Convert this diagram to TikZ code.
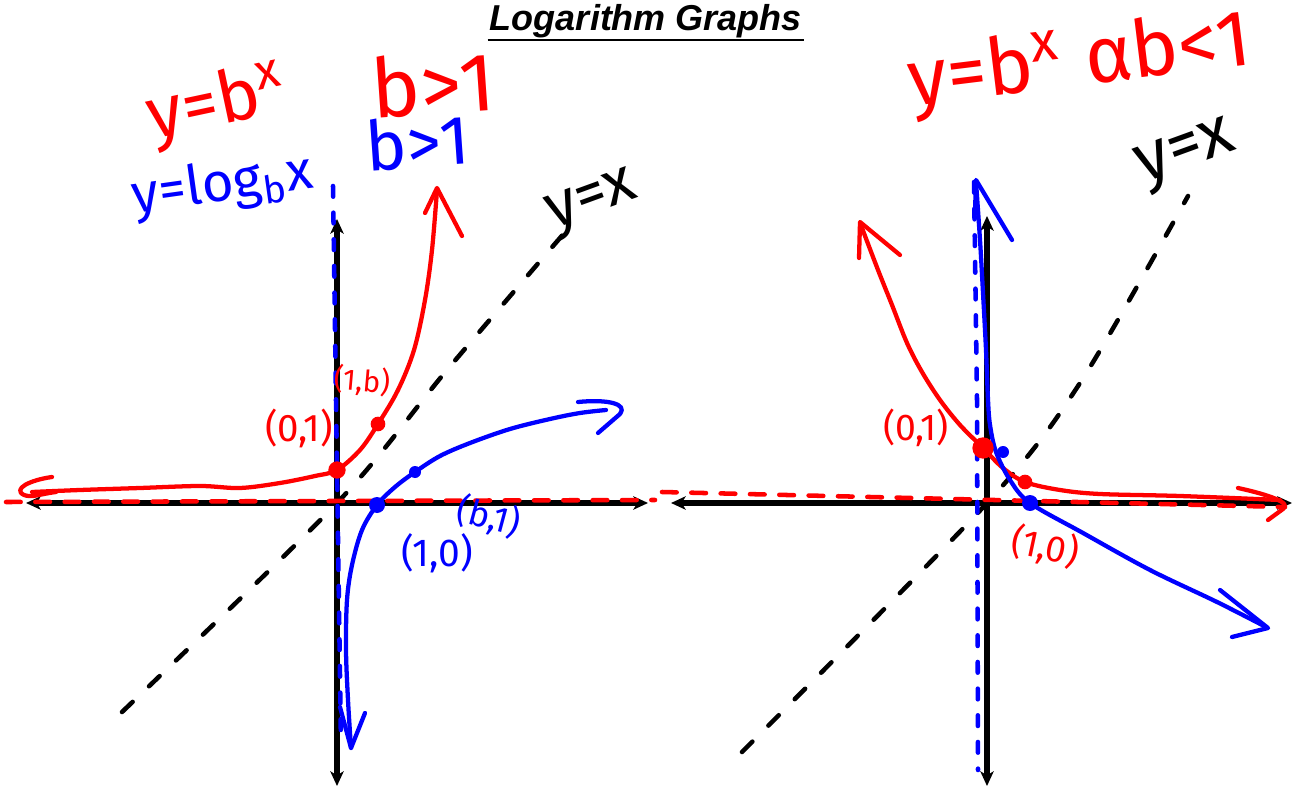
\documentclass[tikz,border=0pt]{standalone}
\usepackage{fontspec}
\setmainfont{Liberation Sans}
\newfontfamily\hand{Fira Sans}
\usepackage{graphicx}
\usetikzlibrary{arrows.meta}
\newdimen\pxu \pxu=0.75pt
\newcommand\fitw[2]{\resizebox{#1\pxu}{!}{#2}}
\begin{document}
\begin{tikzpicture}[x=0.75pt,y=-0.75pt,line cap=round,line join=round,
  axis/.style={line width=3.8pt,line cap=butt,{Stealth[length=11pt,width=10pt,inset=3pt]}-{Stealth[length=11pt,width=10pt,inset=3pt]}},
  idline/.style={line width=3.4pt,dash pattern=on 11pt off 17pt},
  redc/.style={draw=red,line width=3.2pt},
  bluec/.style={draw=blue,line width=3.2pt},
  reddash/.style={draw=red,line width=3.4pt,dash pattern=on 11pt off 11pt},
  bluedash/.style={draw=blue,line width=3.4pt,dash pattern=on 8pt off 12pt},
  rdot/.style={circle,fill=red,inner sep=0pt,minimum size=#1},
  bdot/.style={circle,fill=blue,inner sep=0pt,minimum size=#1},
  lbl/.style={inner sep=0pt,font=\hand}]
\useasboundingbox (0,0) rectangle (1294,787);
\fill[white] (0,0) rectangle (1294,787);

% title
\node[inner sep=1.5pt] (title) at (646,21) {\fontsize{27}{30}\selectfont\bfseries\itshape Logarithm Graphs};
\draw[line width=1.8pt,line cap=butt] (title.south west) -- (title.south east);

% ---------------- left graph ----------------
\coordinate (LxL) at (26,503);
\coordinate (LxR) at (648,503);
\coordinate (LyT) at (337,219);
\coordinate (LyB) at (337,786);
\draw[axis] (LxL) -- (LxR);
\draw[axis] (LyB) -- (LyT);
\draw[idline] plot[smooth] coordinates {(122,712) (337,503) (447,370) (572,224)};

% red asymptote and blue asymptote
\draw[reddash] (6,502) -- (655,500);
\draw[bluedash] (333,186) -- (336,400) -- (341,745);

% exponential b>1
\draw[redc] plot[smooth,tension=0.55] coordinates {(32,492) (80,490) (140,488) (200,486) (240,488) (280,483) (315,476) (337,470) (360,450) (378,424) (398,390) (414,350) (425,300) (432,250) (437,190)};
\draw[redc] (425,213) -- (437,188) -- (462,236);
\draw[redc] (52,477) .. controls (30,480) and (12,489) .. (24,495) .. controls (32,498) and (40,494) .. (56,492);

% log b>1
\draw[bluec] plot[smooth,tension=0.55] coordinates {(351,748) (348,700) (346,650) (347,600) (352,565) (362,530) (377,505) (395,487) (415,472) (440,456) (470,443) (510,429) (550,419) (580,413) (606,410)};
\draw[bluec] (340,707) -- (351,748) -- (365,713);
\draw[bluec] (578,402) .. controls (608,399) and (628,404) .. (620,414) -- (598,433);

\node[rdot=13pt] (L01) at (337,470) {};
\node[rdot=11pt] (L1b) at (378,424) {};
\node[bdot=12pt] (L10) at (377,505) {};
\node[bdot=9pt] (Lb1) at (415,472) {};

% labels left
\node[lbl,text=red,rotate=12] (Leq) at (218,106) {\fitw{142}{y=b\textsuperscript{x}}};
\node[lbl,text=red,rotate=4] (Lcond) at (433,84) {\fitw{124}{b>1}};
\node[lbl,text=blue,rotate=8] (Llog) at (223,186) {\fitw{182}{y=log\textsubscript{b}x}};
\node[lbl,text=blue,rotate=4] (Lcondb) at (418,142) {\fitw{104}{b>1}};
\node[lbl,rotate=20] (Lyx) at (593,204) {\fitw{92}{y=x}};
\node[lbl,text=red] (Lp01) at (299,428) {\fitw{68}{(0,1)}};
\node[lbl,text=red,rotate=-5] (Lp1b) at (362,381) {\fitw{56}{(1,b)}};
\node[lbl,text=blue] (Lp10) at (437,553) {\fitw{72}{(1,0)}};
\node[lbl,text=blue,rotate=-15] (Lpb1) at (489,517) {\fitw{64}{(b,1)}};

% ---------------- right graph ----------------
\coordinate (RxL) at (671,503);
\coordinate (RxR) at (1292,503);
\coordinate (RyT) at (987,216);
\coordinate (RyB) at (987,786);
\draw[axis] (RxL) -- (RxR);
\draw[axis] (RyB) -- (RyT);
\draw[idline] plot[smooth] coordinates {(742,752) (987,503) (1080,383) (1188,196)};

\draw[reddash] (662,492) -- (1285,507);
\draw[bluedash] (974,182) -- (977,400) -- (978,770);

% exponential b<1
\draw[redc] plot[smooth,tension=0.55] coordinates {(862,228) (878,270) (892,305) (907,343) (922,372) (940,400) (960,425) (983,448) (1003,468) (1025,482) (1060,490) (1100,494) (1180,496) (1280,500)};
\draw[redc] (859,258) -- (860,222) -- (900,255);
\draw[redc] (1238,488) .. controls (1270,495) and (1292,503) .. (1283,509) -- (1268,520);

% log b<1
\draw[bluec] plot[smooth,tension=0.55] coordinates {(976,182) (980,240) (983,293) (986,350) (988,400) (990,425) (996,452) (1010,480) (1030,503) (1083,533) (1150,570) (1217,602) (1266,627)};
\draw[bluec] (975,212) -- (976,180) -- (1012,240);
\draw[bluec] (1220,590) -- (1268,628) -- (1232,637);

\node[rdot=16pt] (R01) at (983,448) {};
\node[rdot=11pt] (R10r) at (1025,482) {};
\node[bdot=12pt] (R10) at (1030,503) {};
\node[bdot=9pt] (Rb) at (1003,452) {};

% labels right
\node[lbl,text=red,rotate=7] (Req) at (1080,64) {\fitw{345}{y=b\textsuperscript{x} αb<1}};
\node[lbl,rotate=20] (Ryx) at (1187,156) {\fitw{100}{y=x}};
\node[lbl,text=red] (Rp01) at (916,428) {\fitw{66}{(0,1)}};
\node[lbl,text=red,rotate=-12] (Rp10) at (1045,547) {\fitw{68}{(1,0)}};
\end{tikzpicture}
\end{document}
